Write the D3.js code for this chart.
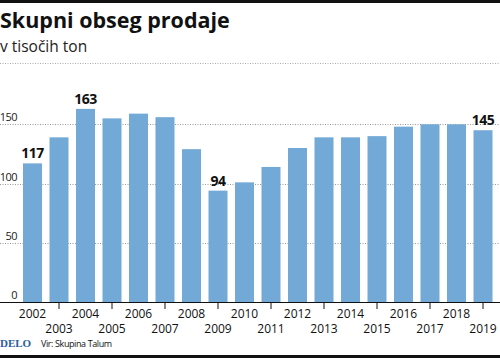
<!DOCTYPE html>
<html lang="sl">
<head>
    <meta charset="UTF-8">
    <title>Skupni obseg prodaje</title>
    <script src="https://cdn.jsdelivr.net/npm/d3@7"></script>
    <style>
        html, body { margin: 0; padding: 0; background: #fff; }
        svg { display: block; font-family: "Open Sans", "Noto Sans", sans-serif; }
    </style>
</head>
<body>
<script>
    // podatki (v tisočih ton)
    var years = ["2002", "2003", "2004", "2005", "2006", "2007", "2008", "2009", "2010",
        "2011", "2012", "2013", "2014", "2015", "2016", "2017", "2018", "2019"];
    var values = [117, 139, 163, 155, 159, 156, 129, 94, 101, 114, 130, 139, 139, 140, 148, 150, 150, 145];
    var yTicks = [0, 50, 100, 150];
    var labelled = ["2002", "2004", "2009", "2019"];

    var W = 500, H = 358;
    var svg = d3.select("body").append("svg").attr("width", W).attr("height", H);

    var x = d3.scaleBand().domain(years).range([19.25, 496.25]).paddingInner(0.283).paddingOuter(0.1415);
    var y = d3.scaleLinear().domain([0, 150]).range([302, 124.3]);

    // zgornja črta
    svg.append("rect").attr("x", 0).attr("y", 0).attr("width", W).attr("height", 3).attr("fill", "#111");

    svg.append("text").attr("x", 0).attr("y", 28)
        .attr("font-size", 21.5).attr("font-weight", 700).attr("fill", "#111")
        .text("Skupni obseg prodaje");
    svg.append("text").attr("x", 0).attr("y", 52)
        .attr("font-size", 15.5).attr("fill", "#222")
        .text("v tisočih ton");

    svg.append("line").attr("x1", 0).attr("x2", W).attr("y1", 63.5).attr("y2", 63.5)
        .attr("stroke", "#aaa").attr("stroke-width", 1).attr("stroke-dasharray", "1,1.5");

    // mreža
    var grid = svg.append("g");
    grid.selectAll("line").data(yTicks.filter(function (d) { return d > 0; })).enter().append("line")
        .attr("x1", 0).attr("x2", W)
        .attr("y1", function (d) { return Math.round(y(d)) + 0.5; })
        .attr("y2", function (d) { return Math.round(y(d)) + 0.5; })
        .attr("stroke", "#999").attr("stroke-width", 1).attr("stroke-dasharray", "1,1.5");
    grid.selectAll("text").data(yTicks).enter().append("text")
        .attr("x", 17).attr("y", function (d) { return y(d) - 3; })
        .attr("text-anchor", "end").attr("font-size", 11).attr("fill", "#222")
        .attr("letter-spacing", "-0.5")
        .text(function (d) { return d; });

    // stolpci
    svg.append("g").selectAll("rect").data(values).enter().append("rect")
        .attr("x", function (d, i) { return x(years[i]); })
        .attr("y", function (d) { return y(d); })
        .attr("width", x.bandwidth())
        .attr("height", function (d) { return y(0) - y(d); })
        .attr("fill", "#72a9d6");

    // oznake vrednosti
    svg.append("g").selectAll("text").data(years.filter(function (yr) { return labelled.indexOf(yr) >= 0; }))
        .enter().append("text")
        .attr("x", function (yr) { return x(yr) + x.bandwidth() / 2; })
        .attr("y", function (yr) { return y(values[years.indexOf(yr)]) - 5; })
        .attr("text-anchor", "middle").attr("font-size", 14).attr("font-weight", 700).attr("fill", "#111")
        .attr("letter-spacing", "-0.5")
        .text(function (yr) { return values[years.indexOf(yr)]; });

    // os x
    svg.append("line").attr("x1", 0).attr("x2", W).attr("y1", 302.5).attr("y2", 302.5)
        .attr("stroke", "#111").attr("stroke-width", 1.2);

    var xa = svg.append("g");
    years.forEach(function (yr, i) {
        var cx = x(yr) + x.bandwidth() / 2;
        var odd = i % 2 === 1;
        if (odd) {
            xa.append("line").attr("x1", cx).attr("x2", cx).attr("y1", 302).attr("y2", 309)
                .attr("stroke", "#111").attr("stroke-width", 1);
        }
        xa.append("text").attr("x", cx).attr("y", odd ? 333 : 318)
            .attr("text-anchor", "middle").attr("font-size", 12).attr("fill", "#111")
            .text(yr);
    });

    // noga
    svg.append("text").attr("x", 0).attr("y", 347)
        .attr("font-family", "'Liberation Serif', 'DejaVu Serif', serif")
        .attr("font-size", 11).attr("font-weight", 700).attr("fill", "#2a5da0")
        .text("DELO");
    svg.append("text").attr("x", 41).attr("y", 347)
        .attr("font-size", 9).attr("fill", "#111").attr("letter-spacing", "-0.4")
        .text("Vir: Skupina Talum");
    svg.append("rect").attr("x", 0).attr("y", 355).attr("width", W).attr("height", 3).attr("fill", "#111");
</script>
</body>
</html>
